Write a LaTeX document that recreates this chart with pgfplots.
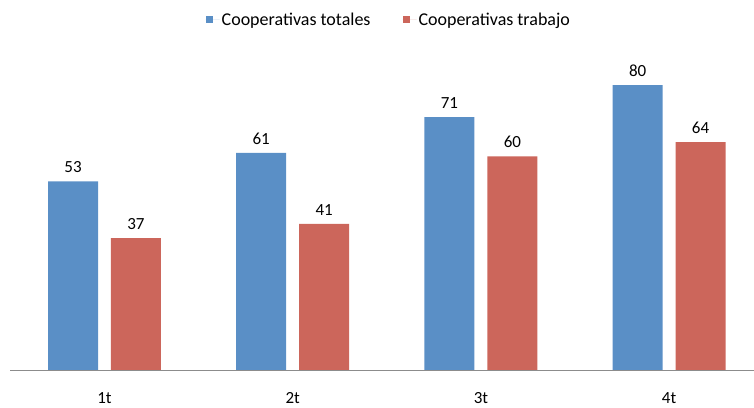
\documentclass[border=0pt]{standalone}
\usepackage{pgfplots}
\pgfplotsset{compat=1.18}
\usepackage{fontspec}
\setmainfont{Carlito}
\definecolor{cblue}{HTML}{5A8FC6}
\definecolor{cred}{HTML}{CC665B}
\begin{document}
\begin{tikzpicture}[font=\fontsize{17}{20}\selectfont]
\begin{axis}[
    scale only axis,
    width=743.6pt, height=320.4pt,
    xmin=-0.5, xmax=3.45,
    ymin=0, ymax=90,
    ybar=13pt, bar width=50pt,
    axis x line*=bottom, axis y line=none,
    x axis line style={-, draw=black!45},
    xtick=data, xticklabels={1t,2t,3t,4t},
    xtick style={draw=none},
    xticklabel style={yshift=-15pt, font=\fontsize{17}{20}\selectfont},
    ytick=\empty,
    /pgf/number format/assume math mode=true,
    nodes near coords,
    nodes near coords style={font=\fontsize{17}{20}\selectfont, black, yshift=5pt},
    legend columns=2,
    legend style={draw=none, at={(0.509,1)}, anchor=center, yshift=30pt,
        /tikz/every even column/.append style={column sep=30pt},
        /tikz/every odd column/.append style={column sep=0pt},
        font=\fontsize{18}{21}\selectfont},
    legend image code/.code={\fill[#1] (0pt,-3.5pt) rectangle (7pt,3.5pt);
        \path (0pt,0pt) -- (14pt,0pt);},
]
\addplot[fill=cblue, draw=none] coordinates {(0,53) (1,61) (2,71) (3,80)};
\addplot[fill=cred, draw=none] coordinates {(0,37) (1,41) (2,60) (3,64)};
\legend{Cooperativas totales, Cooperativas trabajo}
\end{axis}
\path (current axis.south west) ++(-10.4pt,-35pt) rectangle ++(754pt,405pt);
\end{tikzpicture}
\end{document}
